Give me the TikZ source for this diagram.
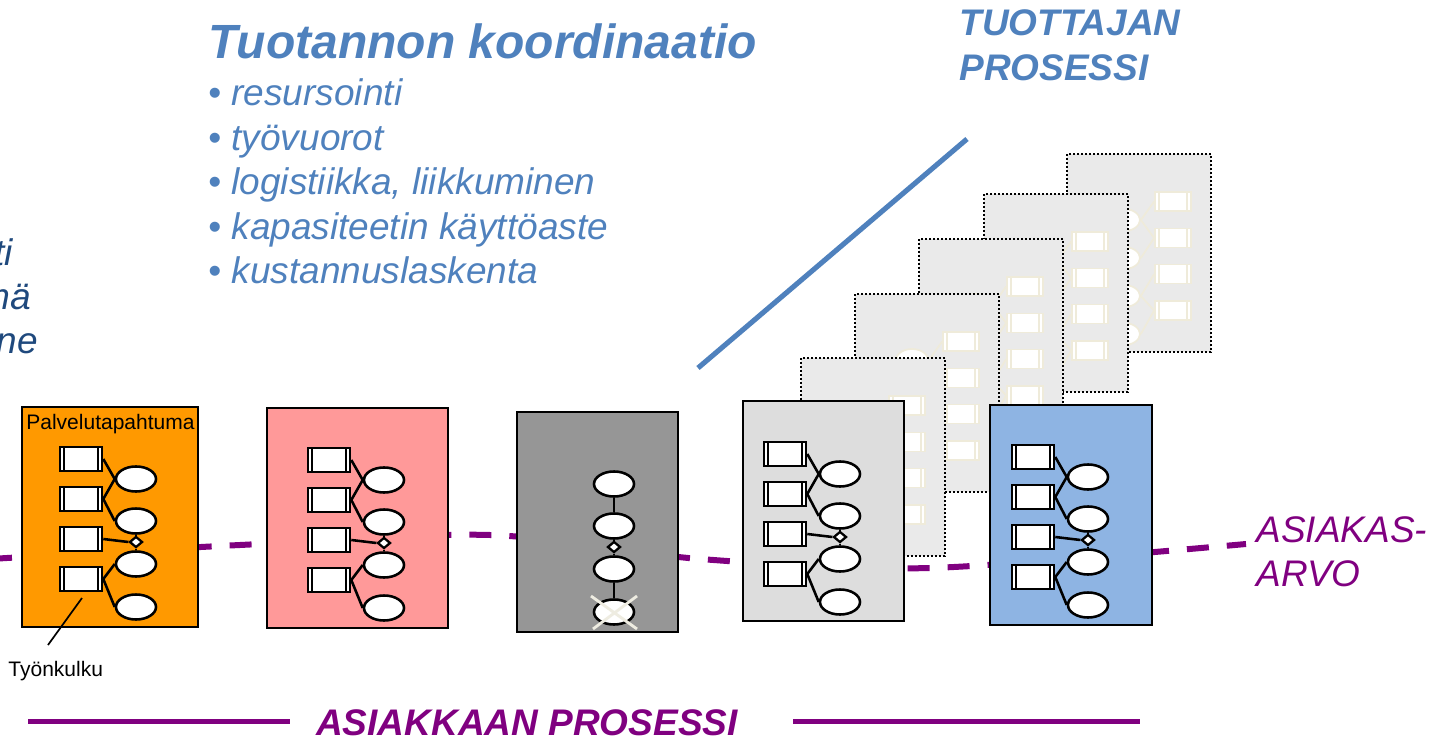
\documentclass[tikz,border=0pt]{standalone}
\usepackage{fontspec}
\setmainfont{Liberation Sans}
\usetikzlibrary{shapes.geometric}
\definecolor{coordblue}{HTML}{4F81BD}
\definecolor{cutblue}{HTML}{1F497D}
\definecolor{valuepurple}{HTML}{800080}
\definecolor{eventorange}{HTML}{FF9900}
\definecolor{eventpink}{HTML}{FF9999}
\definecolor{eventgray}{HTML}{969696}
\definecolor{eventlight}{HTML}{DDDDDD}
\definecolor{eventblue}{HTML}{8EB4E3}
\definecolor{ghostgray}{HTML}{EAEAEA}
\definecolor{ghostline}{HTML}{EFEBDA}
\definecolor{crossline}{HTML}{EEECE1}
\tikzset{
  bars/.style={path picture={\draw[#1, line width=0.4mm]
    ([xshift=2pt]path picture bounding box.north west) -- ([xshift=2pt]path picture bounding box.south west)
    ([xshift=-2pt]path picture bounding box.north east) -- ([xshift=-2pt]path picture bounding box.south east);}},
  act/.style={draw, fill=white, line width=0.45mm, inner sep=0pt, minimum width=21pt, minimum height=12pt, bars=black},
  ev/.style={ellipse, draw, fill=white, line width=0.45mm, inner sep=0pt, minimum width=20pt, minimum height=12.5pt},
  gate/.style={diamond, draw, fill=white, line width=0.4mm, inner sep=0pt, minimum width=6.5pt, minimum height=5.5pt},
  gact/.style={draw=ghostline, fill=white, line width=0.3mm, inner sep=0pt, minimum width=18pt, minimum height=9.5pt, bars=ghostline},
  gev/.style={ellipse, draw=ghostline, fill=white, line width=0.3mm, inner sep=0pt, minimum width=16pt, minimum height=11pt},
  ghost/.style={fill=ghostgray, draw=black, line width=0.4mm, dash pattern=on 1pt off 1pt},
  box/.style={draw=black, line width=0.45mm},
  taskitem/.style={anchor=base west, inner sep=0pt, text=coordblue, font=\fontsize{18.5}{22}\selectfont\itshape},
  cutword/.style={anchor=base east, inner sep=0pt, text=cutblue, font=\fontsize{18.5}{22}\selectfont\itshape},
  producer/.style={anchor=base west, inner sep=0pt, text=coordblue, font=\fontsize{18.5}{22}\selectfont\bfseries\itshape},
  valueword/.style={anchor=base west, inner sep=0pt, text=valuepurple, font=\fontsize{18.5}{22}\selectfont\itshape},
  smalltext/.style={anchor=base west, inner sep=0pt, font=\fontsize{10.5}{12}\selectfont}
}
% ellipse chain of one service event, (x,y) = top left of first activity
\def\eventchain#1(#2,#3){%
  \node[ev] (#1e1) at (#2+76,#3+32) {};
  \node[ev] (#1e2) at (#2+76,#3+74) {};
  \node[gate] (#1g) at (#2+76,#3+95) {};
  \node[ev] (#1e3) at (#2+76,#3+117) {};
  \node[ev] (#1e4) at (#2+76,#3+160) {};
  \draw[line width=0.45mm] (#1e2) -- (#1g) -- (#1e3);
}
\def\workflow#1(#2,#3){%
  \eventchain#1(#2,#3)
  \node[act] (#1a1) at (#2+21,#3+12) {};
  \node[act] (#1a2) at (#2+21,#3+52) {};
  \node[act] (#1a3) at (#2+21,#3+92) {};
  \node[act] (#1a4) at (#2+21,#3+132) {};
  \draw[line width=0.45mm] (#1a1.east) -- (#1e1.west) (#1a2.east) -- (#1e1.west)
    (#1a2.east) -- (#1e2.west) (#1a3.east) -- (#1g.west)
    (#1a4.east) -- (#1e3.west) (#1a4.east) -- (#1e4.west);
}
% producer side copy, mirrored and faded
\def\ghostbox#1(#2,#3){%
  \draw[ghost] (#2,#3) rectangle (#2+144,#3+198);
  \node[gev] (#1e1) at (#2+57,#3+66) {};
  \node[gev] (#1e2) at (#2+57,#3+104) {};
  \node[gev] (#1e3) at (#2+57,#3+142) {};
  \node[gev] (#1e4) at (#2+57,#3+180) {};
  \node[gact] (#1a1) at (#2+106,#3+47.5) {};
  \node[gact] (#1a2) at (#2+106,#3+84) {};
  \node[gact] (#1a3) at (#2+106,#3+120) {};
  \node[gact] (#1a4) at (#2+106,#3+156.5) {};
  \draw[ghostline, line width=0.3mm] (#1a1.west) -- (#1e1.east) (#1a2.west) -- (#1e1.east)
    (#1a2.west) -- (#1e2.east) (#1a3.west) -- (#1e3.east)
    (#1a4.west) -- (#1e3.east) (#1a4.west) -- (#1e4.east);
}

\begin{document}
\begin{tikzpicture}[x=0.5pt, y=-0.5pt]
		%%%%% START %%%%%
		\useasboundingbox (0,0) rectangle (1437,738);
		
		\node[anchor=base west, inner sep=0pt, text=coordblue, font=\fontsize{24}{28}\selectfont\bfseries\itshape] (title) at (208,59) {Tuotannon koordinaatio};
		\node[taskitem] (task1) at (208,106) {• resursointi};
		\node[taskitem] (task2) at (208,151) {• työvuorot};
		\node[taskitem] (task3) at (208,195) {• logistiikka, liikkuminen};
		\node[taskitem] (task4) at (208,240) {• kapasiteetin käyttöaste};
		\node[taskitem] (task5) at (208,284) {• kustannuslaskenta};
		
		\node[cutword] (cut1) at (13,265) {ti};
		\node[cutword] (cut2) at (31,309) {mä};
		\node[cutword] (cut3) at (38,353) {ne};
		
		\node[producer] (prod1) at (959,36) {TUOTTAJAN};
		\node[producer] (prod2) at (959,81) {PROSESSI};
		\draw[line width=0.9mm, color=coordblue] (698,368) -- (967,139);
		
		\ghostbox E(1067,154)
		\ghostbox D(984,194)
		\ghostbox C(919,239)
		\ghostbox B(855,294)
		\ghostbox A(801,358)
		
		\draw[line width=3pt, color=valuepurple, dash pattern=on 11pt off 9pt] plot[smooth] coordinates {(-10,559) (240,545) (490,535) (700,559) (930,568) (1246,544)};
		
		\draw[box, fill=eventorange] (22,407) rectangle (198,627);
		\workflow o(60,447)
		\node[smalltext] (event) at (26,429) {Palvelutapahtuma};
		
		\draw[box, fill=eventpink] (267,408) rectangle (448,628);
		\workflow p(308,448)
		
		\draw[box, fill=eventgray] (517,412) rectangle (678,632);
		\eventchain g(538,452)
		\draw[line width=0.45mm] (ge1) -- (ge2) (ge3) -- (ge4);
		\draw[line width=0.5mm, color=crossline] (ge4.center) ++(-23,-16) -- ++(46,33);
		\draw[line width=0.5mm, color=crossline] (ge4.center) ++(23,-16) -- ++(-44,33);
		
		\draw[box, fill=eventlight] (743,401) rectangle (904,621);
		\workflow l(764,442)
		
		\draw[box, fill=eventblue] (990,405) rectangle (1152,625);
		\workflow b(1012,445)
		
		\node[smalltext] (flow) at (8,676) {Työnkulku};
		\coordinate (flowfoot) at (48,645);
		\coordinate (flowtip) at (82,598);
		\draw[line width=0.3mm] (flowfoot) -- (flowtip);
		
		\node[valueword] (value1) at (1256,542) {ASIAKAS-};
		\node[valueword] (value2) at (1256,586) {ARVO};
		
		\node[anchor=base, inner sep=0pt, text=valuepurple, font=\fontsize{18.5}{22}\selectfont\bfseries\itshape] (customer) at (527,735) {ASIAKKAAN PROSESSI};
		\draw[line width=2.5pt, color=valuepurple] (28,721) -- (290,721);
		\draw[line width=2.5pt, color=valuepurple] (793,721) -- (1140,721);
		
		%%%%% END %%%%%
\end{tikzpicture}
\end{document}
